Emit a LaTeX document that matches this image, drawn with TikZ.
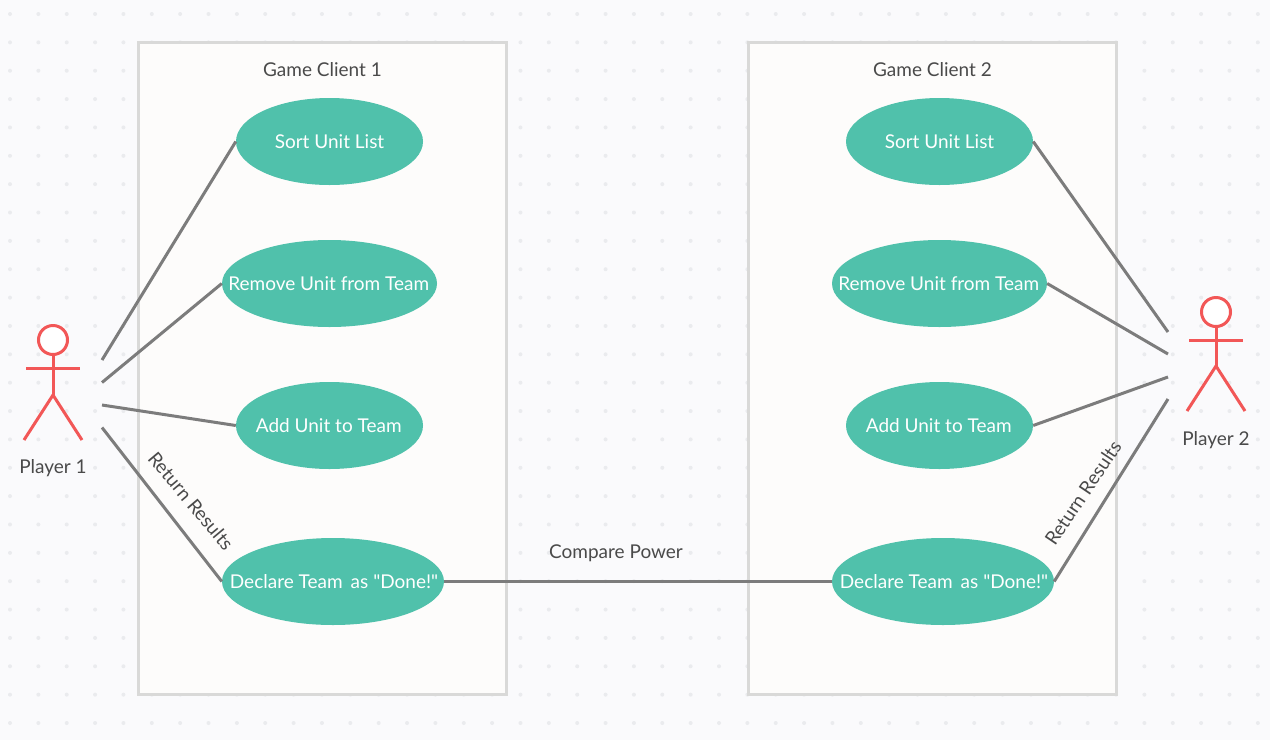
\documentclass[tikz,border=0pt]{standalone}
\usepackage{fontspec}
\setmainfont{Lato}[Ligatures=TeXOff]
\usetikzlibrary{shapes.geometric}
\definecolor{bgc}{HTML}{FAFAFC}
\definecolor{dotc}{HTML}{EAEBEE}
\definecolor{boxfill}{HTML}{FDFCFB}
\definecolor{boxline}{HTML}{D9D9D8}
\definecolor{teal}{HTML}{50C1AB}
\definecolor{conn}{HTML}{7C7C7C}
\definecolor{actor}{HTML}{F25757}
\definecolor{txt}{HTML}{4A4A4A}
\newcommand{\uctext}[1]{\makebox[0pt][c]{#1}}
\tikzset{
  sysbox/.style={draw=boxline,fill=boxfill,line width=3pt},
  usecase/.style={ellipse,fill=teal,text=white,inner sep=0pt,minimum height=87pt,font=\fontsize{19pt}{23pt}\selectfont},
  conline/.style={draw=conn,line width=3pt},
  limb/.style={draw=actor,line width=3pt},
  lbl/.style={text=txt,inner sep=0pt,font=\fontsize{19pt}{23pt}\selectfont},
}
\begin{document}
\begin{tikzpicture}[x=1pt,y=-1pt]
\useasboundingbox (0,0) rectangle (1270,740);
\fill[bgc] (0,0) rectangle (1270,740);
\foreach \i in {0,...,44}{\foreach \j in {0,...,25}{
  \fill[dotc] ({10+28.36*\i},{14+28.36*\j}) circle (2pt);}}
% systems
\node[sysbox,minimum width=368pt,minimum height=652pt,inner sep=0pt] (box1) at (322.5,368) {};
\node[sysbox,minimum width=368pt,minimum height=652pt,inner sep=0pt] (box2) at (932.5,368) {};
\node[lbl] (t1) at (322.5,69.5) {Game Client 1};
\node[lbl] (t2) at (932.5,69.5) {Game Client 2};
% use cases
\node[usecase,minimum width=187pt] (s1) at (329.5,141.5) {\uctext{Sort Unit List}};
\node[usecase,minimum width=215pt] (r1) at (329.5,283.5) {\hspace{-1.5pt}\uctext{Remove Unit from Team}};
\node[usecase,minimum width=187pt] (a1) at (329.5,425.5) {\hspace{-1.5pt}\uctext{Add Unit to Team}};
\node[usecase,minimum width=222pt] (d1) at (333,581.5) {\hspace{2pt}\uctext{Declare Team\, as "Done!"}};
\node[usecase,minimum width=187pt] (s2) at (939.5,141.5) {\uctext{Sort Unit List}};
\node[usecase,minimum width=215pt] (r2) at (939.5,283.5) {\hspace{-1.5pt}\uctext{Remove Unit from Team}};
\node[usecase,minimum width=187pt] (a2) at (939.5,425.5) {\hspace{-1.5pt}\uctext{Add Unit to Team}};
\node[usecase,minimum width=222pt] (d2) at (943,581.5) {\hspace{2pt}\uctext{Declare Team\, as "Done!"}};
% free ends
\coordinate (p1a) at (102,360);
\coordinate (p1b) at (102,382.5);
\coordinate (p1c) at (102,405);
\coordinate (p1d) at (102,427.5);
\coordinate (p2a) at (1168,332);
\coordinate (p2b) at (1168,354);
\coordinate (p2c) at (1168,377);
\coordinate (p2d) at (1168,399);
% connectors
\draw[conline] (p1a) -- (s1.west);
\draw[conline] (p1b) -- (r1.west);
\draw[conline] (p1c) -- (a1.west);
\draw[conline] (p1d) -- (d1.west);
\draw[conline] (d1.east) -- (d2.west);
\draw[conline] (s2.east) -- (p2a);
\draw[conline] (r2.east) -- (p2b);
\draw[conline] (a2.east) -- (p2c);
\draw[conline] (d2.east) -- (p2d);
% connector labels
\node[lbl,rotate=-50] (l1) at (191,501) {Return Results};
\node[lbl] (l2) at (616,553) {Compare Power};
\node[lbl,rotate=56] (l3) at (1083,493) {Return Results};
% actor 1
\draw[limb,fill=white] (53,340) circle (14.5pt);
\draw[limb] (53,354.5) -- (53,395);
\draw[limb] (26,368.5) -- (80,368.5);
\draw[limb] (24,440) -- (53,395) -- (82,440);
\node[lbl] (n1) at (53,468) {Player 1};
% actor 2
\draw[limb,fill=white] (1216,312) circle (14.5pt);
\draw[limb] (1216,326.5) -- (1216,366);
\draw[limb] (1189,340) -- (1243,340);
\draw[limb] (1187,411) -- (1216,366) -- (1245,411);
\node[lbl] (n2) at (1216,440) {Player 2};
\end{tikzpicture}
\end{document}
